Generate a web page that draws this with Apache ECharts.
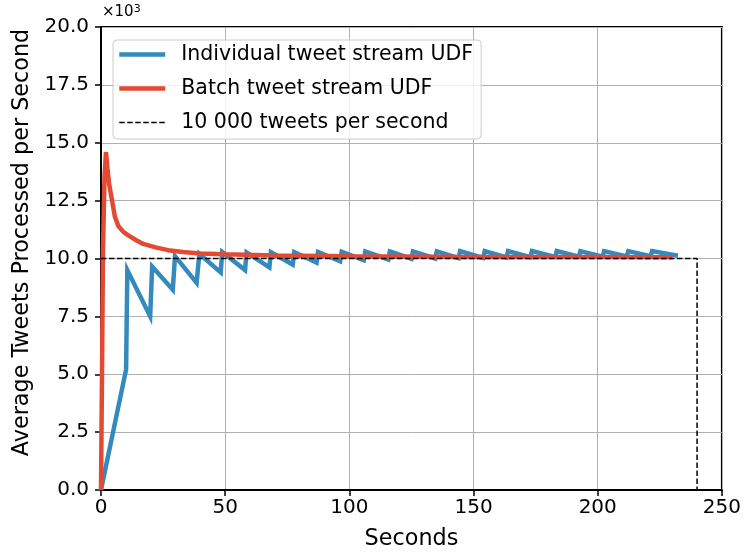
<!DOCTYPE html>
<html>
<head>
<meta charset="utf-8">
<script src="https://cdn.jsdelivr.net/npm/echarts@6/dist/echarts.min.js"></script>
<style>
  html, body { margin: 0; padding: 0; background: #fff; }
  #chart { width: 744px; height: 555px; }
</style>
</head>
<body>
<div id="chart"></div>
<script>
// values are in thousands of tweets per second
const individualX = [0, 10.1, 10.6, 19.8, 20.6, 28.9, 29.8, 38.5, 39.6, 48.2, 48.8, 58.0, 58.6, 67.8, 68.4, 77.2, 77.8,
  86.8, 87.4, 96.3, 96.9, 105.8, 106.4, 115.7, 116.3, 125.0, 125.6, 134.6, 135.2, 144.0, 144.6, 153.9, 154.5,
  163.3, 163.9, 172.9, 173.5, 182.9, 183.5, 192.4, 193.0, 202.0, 202.6, 211.7, 212.3, 221.3, 221.9, 232.3];
const individualY = [0, 5.2, 9.5, 7.5, 9.65, 8.65, 10.1, 8.95, 10.2, 9.4, 10.28, 9.5, 10.26, 9.62, 10.27, 9.74, 10.28,
  9.82, 10.28, 9.88, 10.29, 9.93, 10.3, 9.96, 10.3, 9.99, 10.31, 10.0, 10.31, 10.02, 10.32, 10.03, 10.32,
  10.05, 10.32, 10.06, 10.32, 10.07, 10.32, 10.08, 10.32, 10.08, 10.32, 10.09, 10.32, 10.1, 10.32, 10.12];

const batchX = [0, 0.4, 0.8, 1.4, 2.0, 2.6, 3.3, 4.3, 5.6, 7, 9, 11, 14, 17, 22, 27, 33, 40, 50, 70, 100, 150, 200, 230.2];
const batchY = [0, 5, 10.3, 13.5, 14.6, 13.9, 13.2, 12.6, 11.8, 11.4, 11.15, 11.0, 10.8, 10.63, 10.48, 10.36, 10.28,
  10.22, 10.18, 10.13, 10.1, 10.07, 10.06, 10.05];

const targetX = [0, 240, 240];
const targetY = [10, 10, 0];

const seriesNames = ['Individual tweet stream UDF', 'Batch tweet stream UDF', '10 000 tweets per second'];

function pairs(xs, ys) {
  return xs.map((x, i) => [x, ys[i]]);
}

const font = 'DejaVu Sans';
const chart = echarts.init(document.getElementById('chart'));

chart.setOption({
  animation: false,
  backgroundColor: '#fff',
  grid: {
    left: 101, right: 22, top: 27, bottom: 65,
    show: true, borderColor: '#000', borderWidth: 2
  },
  graphic: [{
    type: 'text',
    left: 102, top: 4,
    style: {
      text: '×10{s|3}',
      font: '15px "DejaVu Sans"',
      fill: '#000',
      rich: { s: { fontSize: 11, verticalAlign: 'top', padding: [0, 0, 6, 0], fontFamily: font } }
    }
  }],
  legend: {
    left: 113, top: 40,
    orient: 'vertical',
    itemWidth: 46, itemHeight: 14, itemGap: 13,
    padding: [4, 8, 6, 4],
    borderColor: '#cccccc', borderWidth: 1, borderRadius: 4,
    backgroundColor: 'rgba(255,255,255,0.8)',
    itemStyle: { opacity: 0 },
    lineStyle: { width: 'inherit' },
    textStyle: { fontFamily: font, fontSize: 20.5, color: '#000', padding: [0, 0, 0, 11] },
    data: seriesNames
  },
  xAxis: {
    type: 'value',
    min: 0, max: 250, interval: 50,
    name: 'Seconds',
    nameLocation: 'middle', nameGap: 38,
    nameTextStyle: { fontFamily: font, fontSize: 22.3, color: '#000' },
    axisLine: { show: true, lineStyle: { color: '#000', width: 2 } },
    axisTick: { show: true, length: 6, lineStyle: { color: '#000', width: 1.5 } },
    axisLabel: { fontFamily: font, fontSize: 20, color: '#000', margin: 8 },
    splitLine: { show: true, lineStyle: { color: '#b0b0b0', width: 1 } }
  },
  yAxis: {
    type: 'value',
    min: 0, max: 20, interval: 2.5,
    name: 'Average Tweets Processed per Second',
    nameLocation: 'middle', nameGap: 66,
    nameTextStyle: { fontFamily: font, fontSize: 22.3, color: '#000', padding: [0, 0, 0, 32] },
    axisLine: { show: true, lineStyle: { color: '#000', width: 2 } },
    axisTick: { show: true, length: 6, lineStyle: { color: '#000', width: 1.5 } },
    axisLabel: { fontFamily: font, fontSize: 20, color: '#000', margin: 12, formatter: v => v.toFixed(1) },
    splitLine: { show: true, lineStyle: { color: '#b0b0b0', width: 1 } }
  },
  series: [
    {
      name: seriesNames[0], type: 'line', symbol: 'none',
      data: pairs(individualX, individualY),
      color: '#348ABD',
      lineStyle: { color: '#348ABD', width: 4.5, join: 'miter' }
    },
    {
      name: seriesNames[1], type: 'line', symbol: 'none',
      data: pairs(batchX, batchY),
      color: '#E24A33',
      lineStyle: { color: '#E24A33', width: 4.5 }
    },
    {
      name: seriesNames[2], type: 'line', symbol: 'none',
      data: pairs(targetX, targetY),
      color: '#000',
      lineStyle: { color: '#000', width: 1.5, type: [5.5, 2.5] }
    }
  ]
});
</script>
</body>
</html>
